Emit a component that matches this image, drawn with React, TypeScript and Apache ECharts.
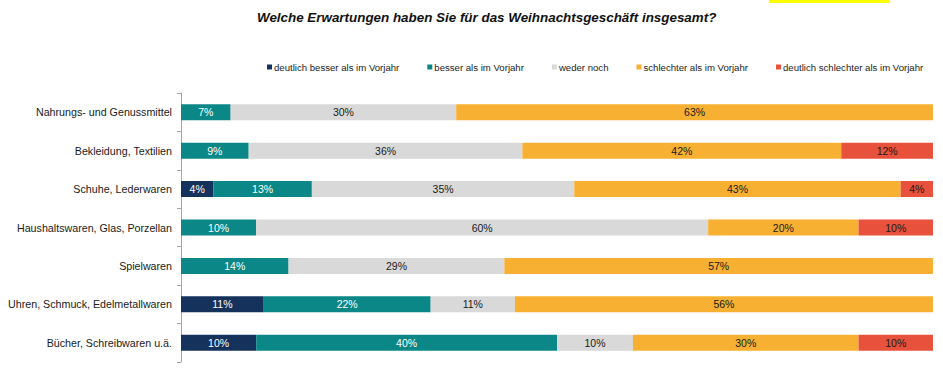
import React, { useEffect, useRef } from "react";
import * as echarts from "echarts";

const categories = [
  "Nahrungs- und Genussmittel",
  "Bekleidung, Textilien",
  "Schuhe, Lederwaren",
  "Haushaltswaren, Glas, Porzellan",
  "Spielwaren",
  "Uhren, Schmuck, Edelmetallwaren",
  "Bücher, Schreibwaren u.ä.",
];

const seriesNames = [
  "deutlich besser als im Vorjahr",
  "besser als im Vorjahr",
  "weder noch",
  "schlechter als im Vorjahr",
  "deutlich schlechter als im Vorjahr",
];

const deutlichBesser = [0, 0, 4.3, 0, 0, 11.0, 10.0];
const besser = [6.6, 9.0, 13.1, 10.0, 14.3, 22.2, 40.0];
const wederNoch = [30.0, 36.4, 34.9, 60.1, 28.7, 11.2, 10.1];
const schlechter = [63.4, 42.4, 43.4, 20.0, 57.0, 55.6, 30.0];
const deutlichSchlechter = [0, 12.2, 4.3, 9.9, 0, 0, 9.9];

const title = "Welche Erwartungen haben Sie für das Weihnachtsgeschäft insgesamt?";

const colors = ["#14325C", "#0A8786", "#D9D9D9", "#F7B031", "#E8513B"];
const labelColors = ["#FFFFFF", "#FFFFFF", "#1A1A1A", "#1A1A1A", "#1A1A1A"];

const FONT = "'Liberation Sans', Arial, sans-serif";

export default function App() {
  const ref = useRef<HTMLDivElement>(null);

  useEffect(() => {
    if (!ref.current) return;
    const chart = echarts.init(ref.current, undefined, { renderer: "svg" });
    const values = [deutlichBesser, besser, wederNoch, schlechter, deutlichSchlechter];
    chart.setOption({
      animation: false,
      backgroundColor: "#FFFFFF",
      title: {
        text: title,
        left: 252,
        top: 6,
        textStyle: {
          fontFamily: FONT,
          fontSize: 13.4,
          fontWeight: "bold",
          fontStyle: "italic",
          color: "#111111",
        },
      },
      graphic: [
        {
          type: "rect",
          shape: { x: 769, y: 0, width: 121, height: 3 },
          style: { fill: "#FFFF00" },
        },
      ],
      legend: {
        data: seriesNames,
        left: 262,
        top: 57,
        itemWidth: 5,
        itemHeight: 5,
        itemGap: 28,
        icon: "rect",
        textStyle: { fontFamily: FONT, fontSize: 9.6, color: "#222222", padding: [0, 0, 0, -3] },
      },
      grid: { left: 181, right: 10, top: 93, bottom: 13, containLabel: false },
      xAxis: { type: "value", min: 0, max: 100, show: false },
      yAxis: {
        type: "category",
        data: categories,
        inverse: true,
        axisLine: { show: true, lineStyle: { color: "#A6A6A6", width: 1 } },
        axisTick: { show: true, length: 4, lineStyle: { color: "#A6A6A6" } },
        axisLabel: { fontFamily: FONT, fontSize: 10.7, color: "#1A1A1A", margin: 9 },
      },
      series: seriesNames.map((name, i) => ({
        name,
        type: "bar",
        stack: "total",
        barWidth: 16,
        data: values[i],
        itemStyle: { color: colors[i] },
        label: {
          show: true,
          position: "inside",
          fontFamily: FONT,
          fontSize: 10.5,
          color: labelColors[i],
          formatter: (p: any) => (p.value > 0 ? Math.round(p.value) + "%" : ""),
        },
      })),
    });
    return () => chart.dispose();
  }, []);

  return (
    <div
      ref={ref}
      style={{ position: "fixed", left: 0, top: 0, width: 943, height: 375 }}
    />
  );
}
